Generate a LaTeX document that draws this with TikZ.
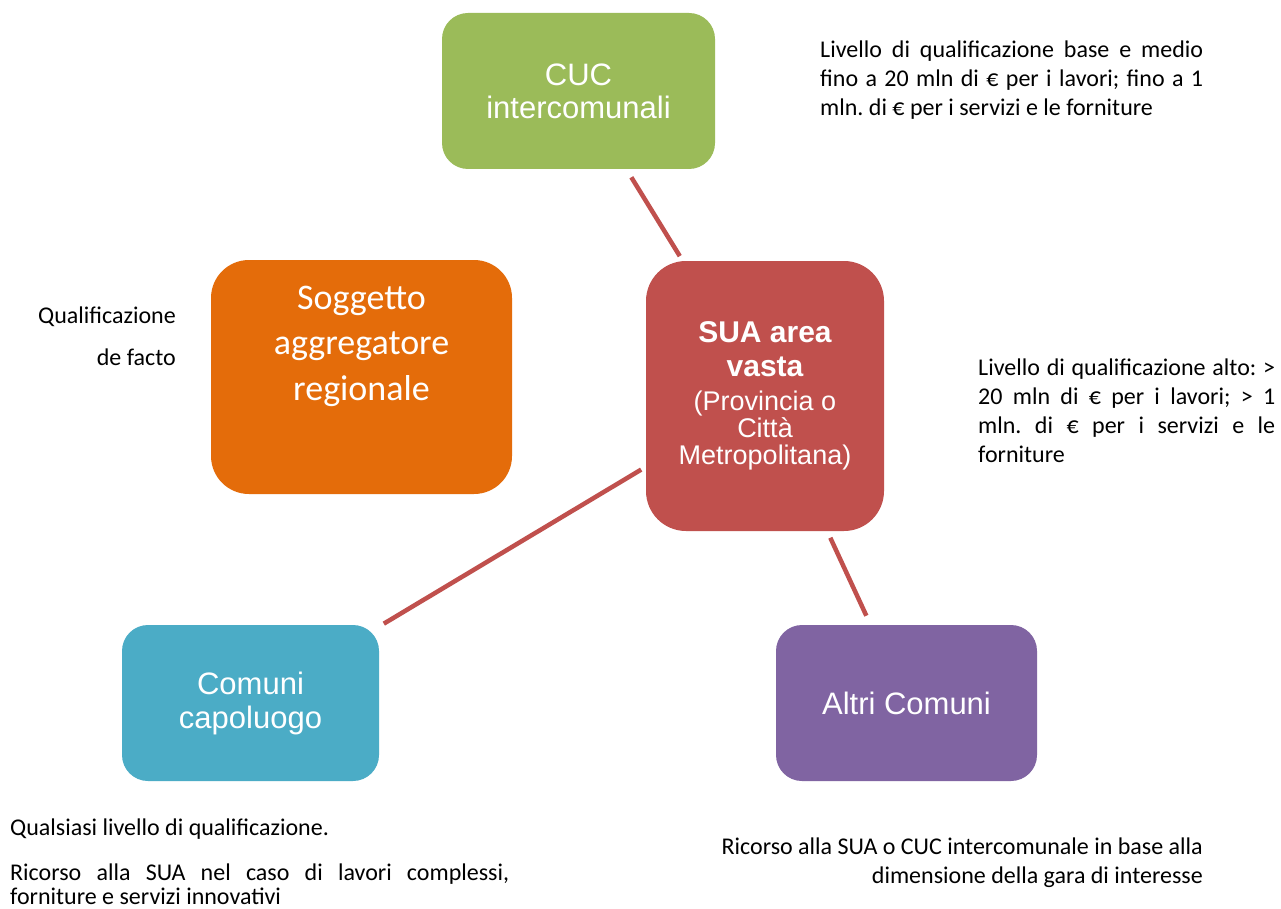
\documentclass[tikz,border=0pt]{standalone}
\usepackage{fontspec}
\setmainfont{Carlito}
\newfontfamily\arialf{Liberation Sans}
\frenchspacing
\definecolor{cgreen}{HTML}{9BBB59}
\definecolor{corange}{HTML}{E46C0A}
\definecolor{cred}{HTML}{C0504D}
\definecolor{cblue}{HTML}{4BACC6}
\definecolor{cpurple}{HTML}{8064A2}
\newcommand\btext[2]{\parbox{#1}{\centering #2}}
\tikzset{
  box/.style={inner sep=0pt, text=white, font=\arialf},
  link/.style={draw=cred, line width=4.5pt},
  note/.style={inner sep=0pt, text=black}
}
\begin{document}
\begin{tikzpicture}[x=1pt,y=-1pt]
\useasboundingbox[fill=white] (0,0) rectangle (1281,909);

% boxes
\node[box, fill=cgreen, minimum width=273pt, minimum height=156pt, rounded corners=26pt] (cuc) at (578.5,91)
  {\btext{260pt}{\fontsize{31}{33}\selectfont CUC\\intercomunali}};
\node[box, fill=corange, minimum width=301pt, minimum height=234pt, rounded corners=38pt] (sa) at (361.5,377) {};
\node[box, anchor=base] (sat) at (361.5,309)
  {\parbox[t]{290pt}{\centering\rmfamily\fontsize{36}{45.5}\selectfont Soggetto\\aggregatore\\regionale}};
\node[box, fill=cred, minimum width=238pt, minimum height=270pt, rounded corners=40pt] (sua) at (765,396)
  {\btext{230pt}{\fontsize{30}{34}\selectfont\bfseries SUA area\\vasta\par\vspace{7pt}\fontsize{27}{27}\selectfont\mdseries (Provincia o\\Città\\Metropolitana)\par}};
\node[box, fill=cblue, minimum width=257pt, minimum height=156pt, rounded corners=26pt] (cap) at (250.5,703)
  {\btext{250pt}{\fontsize{31}{34}\selectfont Comuni\\capoluogo}};
\node[box, fill=cpurple, minimum width=261pt, minimum height=156pt, rounded corners=26pt] (alt) at (906.5,703)
  {\btext{255pt}{\fontsize{31}{33}\selectfont Altri Comuni}};

% connectors
\draw[link, shorten <=9.5pt, shorten >=5.5pt] (cuc) -- (sua);
\draw[link, shorten <=5.4pt, shorten >=5.4pt] (sua) -- (cap);
\draw[link, shorten <=7.2pt, shorten >=10pt] (sua) -- (alt);

% notes
\node[note, anchor=base west] (n1) at (820,58)
  {\parbox[t]{383pt}{\fontsize{24}{29}\selectfont
   \makebox[383pt][s]{Livello di qualificazione base e medio}\\
   \makebox[383pt][s]{fino a 20 mln di € per i lavori; fino a 1}\\
   mln. di € per i servizi e le forniture}};
\node[note, anchor=base west] (n2) at (978,375)
  {\parbox[t]{297pt}{\fontsize{24}{29}\selectfont
   \makebox[297pt][s]{Livello di qualificazione alto: >}\\
   \makebox[297pt][s]{20 mln di € per i lavori; > 1}\\
   \makebox[297pt][s]{mln. di € per i servizi e le}\\
   forniture}};
\node[note, anchor=base east] (n3) at (176,323)
  {\parbox[t]{200pt}{\raggedleft\fontsize{24}{42}\selectfont Qualificazione\\de facto}};
\node[note, anchor=base west] (n4) at (10,835)
  {\parbox[t]{499pt}{\fontsize{24}{24}\selectfont
   Qualsiasi livello di qualificazione.\\[21pt]
   \makebox[499pt][s]{Ricorso alla SUA nel caso di lavori complessi,}\\
   forniture e servizi innovativi}};
\node[note, anchor=base east] (n5) at (1203,854)
  {\parbox[t]{520pt}{\raggedleft\fontsize{24}{29}\selectfont
   Ricorso alla SUA o CUC intercomunale in base alla\\
   dimensione della gara di interesse}};
\end{tikzpicture}
\end{document}
